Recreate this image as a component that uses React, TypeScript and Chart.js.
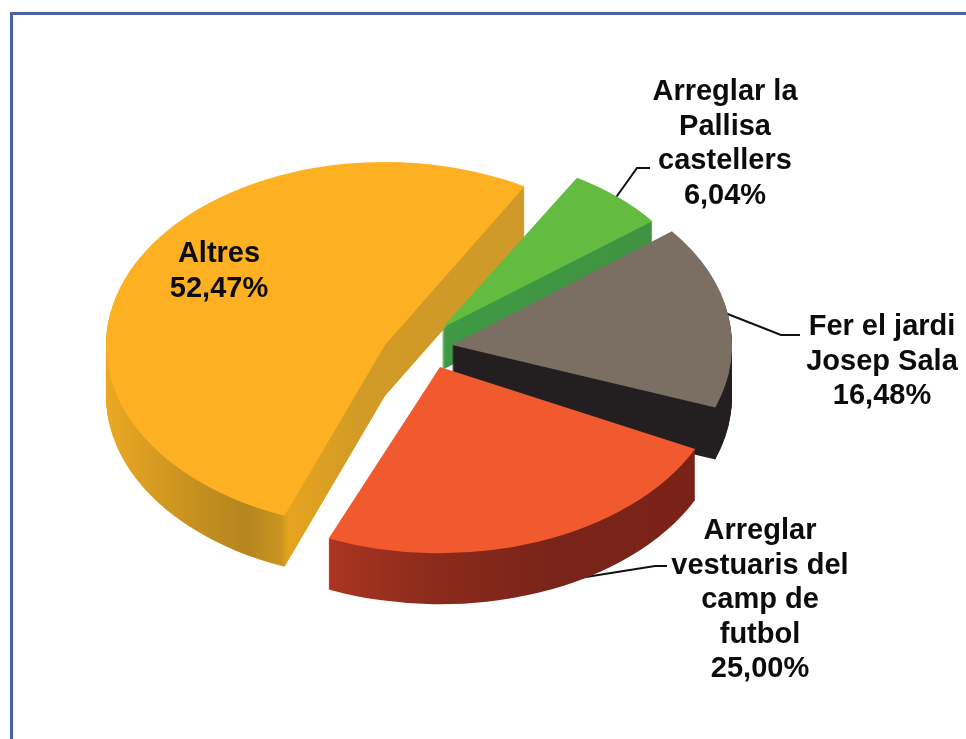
import React, { useEffect, useRef } from "react";
import { Chart, registerables } from "chart.js";

Chart.register(...registerables);

const categories = ["Arreglar la Pallisa castellers", "Fer el jardi Josep Sala", "Arreglar vestuaris del camp de futbol", "Altres"];
const values = [6.04, 16.48, 25.0, 52.47];
const topColors = ["#63bb3f", "#7b6e63", "#f15a2e", "#fdb022"];

const labelLines = [
  ["Arreglar la", "Pallisa", "castellers", "6,04%"],
  ["Fer el jardi", "Josep Sala", "16,48%"],
  ["Arreglar", "vestuaris del", "camp de", "futbol", "25,00%"],
  ["Altres", "52,47%"],
];

// 3D look: projection and per-slice placement (screen px)
const SQUASH = 0.656;
const ROTATION = 30.5;
const apexX = [442, 452, 440, 385];
const apexY = [328, 345, 367, 345];
const radii = [266, 280, 284, 279];
const depths = [42, 52, 51, 51];
// small perspective corrections of the slice edges, degrees
const startNudge = [0, -0.5, 4.5, -0.5];
const endNudge = [0, -1.7, 1.5, -0.5];
const sideStops: [number, string][][] = [
  [[0, "#3f9a45"], [1, "#3f9340"]],
  [[0, "#231f20"], [1, "#231f20"]],
  [[0, "#ab3421"], [0.3, "#8a2a1c"], [0.6, "#7a2419"], [1, "#7a2218"]],
  [[0, "#eaa822"], [0.22, "#c48f20"], [0.33, "#b5851f"], [0.41, "#c99520"], [0.43, "#e6a41e"], [0.6, "#d29a26"], [1, "#cf9a2a"]],
];
const sideSpan = [[440, 660], [452, 735], [328, 700], [107, 530]];
const drawOrder = [0, 1, 3, 2];

const labelX = [725, 882, 760, 219];
const labelY = [92, 327, 531, 254];
const LINE_H = 34.5;
const leaders = [
  [[612, 203], [637, 168], [650, 168]],
  [[720, 311], [781, 335], [800, 335]],
  [[548, 583], [655, 566], [667, 566]],
];

const DEG = Math.PI / 180;

const pie3d = {
  id: "pie3d",
  afterDatasetsUpdate(chart: any) {
    chart.getDatasetMeta(0).data.forEach((arc: any, i: number) => {
      arc.x = apexX[i];
      arc.y = apexY[i] / SQUASH;
      arc.outerRadius = radii[i];
      arc.startAngle += startNudge[i] * DEG;
      arc.endAngle += endNudge[i] * DEG;
      arc.circumference = arc.endAngle - arc.startAngle;
    });
  },
  beforeDatasetsDraw(chart: any) {
    const ctx = chart.ctx;
    const arcs = chart.getDatasetMeta(0).data;
    // leader lines sit behind the pie and emerge from its edge
    ctx.save();
    ctx.strokeStyle = "#111";
    ctx.lineWidth = 2;
    leaders.forEach((pts) => {
      ctx.beginPath();
      pts.forEach(([x, y], k) => (k ? ctx.lineTo(x, y) : ctx.moveTo(x, y)));
      ctx.stroke();
    });
    ctx.restore();
    drawOrder.forEach((i) => {
      const arc = arcs[i];
      const g = ctx.createLinearGradient(sideSpan[i][0], 0, sideSpan[i][1], 0);
      sideStops[i].forEach(([p, c]) => g.addColorStop(p, c));
      ctx.save();
      ctx.fillStyle = g;
      for (let d = depths[i]; d >= 1; d--) {
        ctx.save();
        ctx.translate(0, d);
        ctx.scale(1, SQUASH);
        ctx.beginPath();
        ctx.moveTo(arc.x, arc.y);
        ctx.arc(arc.x, arc.y, arc.outerRadius, arc.startAngle, arc.endAngle);
        ctx.closePath();
        ctx.fill();
        ctx.restore();
      }
      ctx.restore();
    });
    ctx.save();
    ctx.scale(1, SQUASH);
  },
  afterDatasetsDraw(chart: any) {
    const ctx = chart.ctx;
    ctx.restore();
    ctx.save();
    ctx.fillStyle = "#0c0c0c";
    ctx.font = "bold 29px 'Liberation Sans', Arial, sans-serif";
    ctx.textAlign = "center";
    ctx.textBaseline = "middle";
    labelLines.forEach((lines, i) => {
      lines.forEach((t, k) => ctx.fillText(t, labelX[i], labelY[i] + k * LINE_H));
    });
    ctx.restore();
  },
};

export default function App() {
  const ref = useRef<HTMLCanvasElement>(null);
  useEffect(() => {
    const chart = new Chart(ref.current!, {
      type: "pie",
      data: {
        labels: categories,
        datasets: [{ data: values, backgroundColor: topColors, borderWidth: 0, clip: false } as any],
      },
      options: {
        responsive: false,
        animation: false,
        rotation: ROTATION,
        plugins: { legend: { display: false }, tooltip: { enabled: false } },
      },
      plugins: [pie3d as any],
    });
    return () => chart.destroy();
  }, []);
  return (
    <div style={{ position: "fixed", inset: 0, width: 966, height: 739, background: "#fff", overflow: "hidden" }}>
      <div style={{ position: "absolute", left: 10, top: 12, width: 990, height: 780, border: "3px solid #4a5fae" }} />
      <canvas ref={ref} width={966} height={739} style={{ position: "absolute", left: 0, top: 0, filter: "blur(0.5px)" }} />
    </div>
  );
}
